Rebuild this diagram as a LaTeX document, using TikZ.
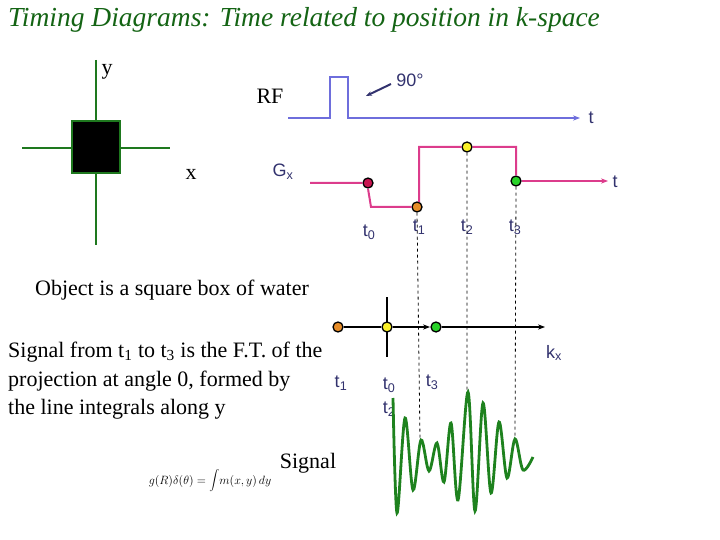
\documentclass[tikz,border=0pt]{standalone}
\usepackage{fontspec}
\setmainfont{Liberation Serif}
\newfontfamily\arial{Liberation Sans}
\usetikzlibrary{arrows.meta}
\definecolor{ttl}{RGB}{20,100,20}
\definecolor{axg}{RGB}{30,120,30}
\definecolor{rfc}{RGB}{110,110,220}
\definecolor{gxc}{RGB}{220,60,140}
\definecolor{lab}{RGB}{50,50,110}
\definecolor{dcrim}{RGB}{200,20,80}
\definecolor{dor}{RGB}{230,140,40}
\definecolor{dye}{RGB}{250,240,40}
\definecolor{dgr}{RGB}{40,210,40}
\definecolor{sig}{RGB}{30,130,30}
\begin{document}
\begin{tikzpicture}[x=1pt,y=-1pt,
  dot/.style={circle,draw=black,line width=1.3pt,inner sep=0pt,minimum size=10pt},
  slab/.style={font=\arial\fontsize{18}{20}\selectfont,text=lab},
  ser/.style={font=\fontsize{22}{28.5}\selectfont,anchor=west},
  dsh/.style={dashed,line width=0.8pt,black}]
\useasboundingbox (0,0) rectangle (720,540);
\node[anchor=west,font=\itshape\fontsize{27.5}{30}\selectfont,text=ttl,inner sep=0pt] (title) at (8,20) {Timing Diagrams: Time related to position in k-space};
% object
\coordinate (yt) at (96,60); \coordinate (yb) at (96,245);
\coordinate (xl) at (22,148); \coordinate (xr) at (170,148);
\draw[axg,line width=1.5pt] (yt)--(yb) (xl)--(xr);
\node[draw=axg,line width=2pt,fill=black,minimum width=48pt,minimum height=52pt,inner sep=0pt] (box) at (96,147) {};
\node[ser,anchor=center] (ylab) at (107,72) {y};
\node[ser,anchor=center] (xlab) at (191,174) {x};
% RF
\node[ser,anchor=center] (rf) at (270,96) {RF};
\coordinate (r0) at (288,118); \coordinate (r1) at (580,118);
\draw[rfc,line width=2pt,-{Stealth[length=7pt]}] (r0)--(330,118)--(330,77)--(348,77)--(348,118)--(r1);
\node[slab] (rft) at (591,118) {t};
\node[slab] (ninety) at (410,80) {90°};
\coordinate (na) at (366,96);
\draw[lab,line width=2pt,-{Stealth[length=6pt]}] (391,84) -- (na);
% Gx
\node[slab] (gx) at (283,172) {G\textsubscript{x}};
\node[dot,fill=dcrim] (g0) at (368,183) {};
\node[dot,fill=dor] (g1) at (417,207) {};
\node[dot,fill=dye] (g2) at (467,147) {};
\node[dot,fill=dgr] (g3) at (516,181) {};
\coordinate (gs) at (310,183); \coordinate (ge) at (608,181);
\draw[gxc,line width=2pt] (gs)--(g0.west) (g0.south)--(371,207)--(g1.west) (419,202)--(419,147)--(g2.west) (g2.east)--(516,147)--(g3.north);
\draw[gxc,line width=2pt,-{Stealth[length=7pt]}] (g3.east)--(ge);
\node[slab] (gt) at (615,182) {t};
\node[slab] (t0) at (369,232) {t\textsubscript{0}};
\node[slab] (t1) at (419,227) {t\textsubscript{1}};
\node[slab] (t2) at (467,227) {t\textsubscript{2}};
\node[slab] (t3) at (515,227) {t\textsubscript{3}};
% dashed
\coordinate (d1) at (420,440); \coordinate (d2) at (467,392); \coordinate (d3) at (515,440);
\draw[dsh] (g1.south) -- (d1) (g2.south) -- (d2) (g3.south) -- (d3);
% kx
\coordinate (kv1) at (387,297); \coordinate (kv2) at (387,357);
\draw[line width=1.5pt] (kv1)--(kv2);
\node[dot,fill=dor] (k1) at (338,327) {};
\node[dot,fill=dye] (k0) at (387,327) {};
\node[dot,fill=dgr] (k3) at (436,327) {};
\coordinate (ke) at (545,327);
\draw[line width=1.5pt] (k1.east)--(k0.west);
\draw[line width=1.5pt,-{Stealth[length=7pt]}] (k0.east)--(430,327);
\draw[line width=1.5pt,-{Stealth[length=7pt]}] (k3.east)--(ke);
\node[slab] (kx) at (554,353) {k\textsubscript{x}};
\node[slab] (kt1) at (341,383) {t\textsubscript{1}};
\node[slab] (kt0) at (389,385) {t\textsubscript{0}};
\node[slab] (kt2) at (389,409) {t\textsubscript{2}};
\node[slab] (kt3) at (432,382) {t\textsubscript{3}};
% signal
\draw[sig,line width=2.8pt] plot[smooth,tension=0.55] coordinates {(393,398) (397,513) (405,418) (413,490) (421,440) (429,471) (437,443) (444,482) (451,423) (458,500) (468,392) (475,511) (483,403) (491,493) (499,422) (507,478) (515,439) (523,470) (533,457)};
% texts
\node[ser,inner sep=0pt] (obj) at (35,290) {Object is a square box of water};
\node[ser,align=left,anchor=north west,inner sep=0pt] (sigtxt) at (8,342) {Signal from t\textsubscript{1} to t\textsubscript{3} is the F.T. of the\\ projection at angle 0, formed by\\ the line integrals along y};
\node[ser,anchor=center] (sl) at (308,463) {Signal};
\node[font=\fontsize{13}{15}\selectfont,inner sep=0pt] (eq) at (210,481) {$g(R)\delta(\theta)={\displaystyle\int} m(x,y)\,dy$};
\end{tikzpicture}
\end{document}
